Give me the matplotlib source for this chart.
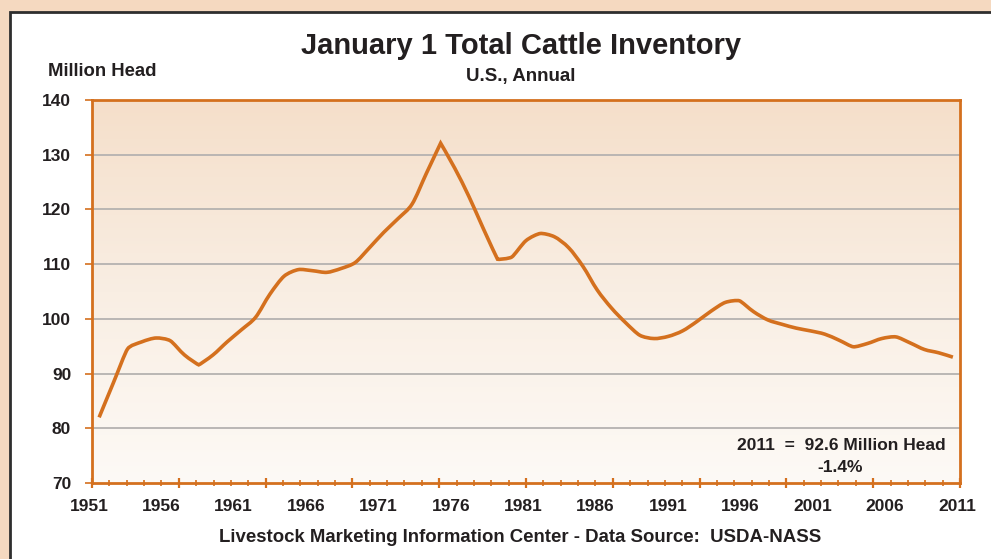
import numpy as np
import matplotlib
matplotlib.use("Agg")
import matplotlib.pyplot as plt
from matplotlib.colors import LinearSegmentedColormap
from matplotlib.patches import Rectangle
from matplotlib.path import Path
from matplotlib.patches import PathPatch

years = list(range(1951, 2012))
inventory = [82.0, 88.3, 94.5, 95.8, 96.5, 96.0, 93.4, 91.6, 93.4, 95.8,
             98.0, 100.3, 104.5, 107.8, 109.0, 108.8, 108.5, 109.2, 110.3, 113.0,
             115.8, 118.3, 121.0, 126.6, 132.1, 127.5, 122.3, 116.5, 110.9, 111.3,
             114.3, 115.6, 115.0, 113.0, 109.6, 105.3, 102.0, 99.3, 97.0, 96.4,
             96.8, 97.8, 99.5, 101.4, 103.0, 103.3, 101.3, 99.8, 99.0, 98.3,
             97.8, 97.2, 96.1, 94.9, 95.5, 96.4, 96.7, 95.6, 94.4, 93.8, 93.0]
ytick_values = [70, 80, 90, 100, 110, 120, 130, 140]
xtick_labels = ["1951", "1956", "1961", "1966", "1971", "1976", "1981",
                "1986", "1991", "1996", "2001", "2006", "2011"]

ORANGE = "#D4701E"
FONT2 = ["Liberation Sans", "DejaVu Sans"]
TXT = "#231F20"

fig = plt.figure(figsize=(9.91, 5.59), dpi=100)
fig.patch.set_facecolor("#F5D9C0")

# white framed panel
frame = Rectangle((10/991, -0.05), 1.1, 0.05 + 1 - 12/559, transform=fig.transFigure,
                  facecolor="white", edgecolor="#2E2E2E", linewidth=2.0, zorder=-5)
fig.patches.append(frame)

ax = fig.add_axes([92/991, 1 - 483/559, (960 - 92)/991, (483 - 100)/559])
ax.set_zorder(2)
ax.set_facecolor("none")

x0, x1 = 1950.5, 2011.5
ax.set_xlim(x0, x1)
ax.set_ylim(70, 140)

# gradient background
cmap = LinearSegmentedColormap.from_list("g", ["#FDFAF6", "#F9EEE3", "#F5DFCA"])
grad = np.linspace(0, 1, 256).reshape(-1, 1)
ax.imshow(grad, extent=[x0, x1, 70, 140], origin="lower", aspect="auto",
          cmap=cmap, zorder=0)

# grid lines
for v in ytick_values[1:-1]:
    ax.axhline(v, color="#B5B2B0", linewidth=1.3, zorder=1)

# smoothed line: Bezier through points, tension reduced at sharp turns
xs = np.array(years, dtype=float)
ys = np.array(inventory, dtype=float)
sx = (960 - 92) / (x1 - x0)     # pixel scale per data unit
sy = (483 - 100) / (140 - 70)
n = len(xs)
tang = np.zeros((n, 2))
for i in range(n):
    a = max(i - 1, 0)
    b = min(i + 1, n - 1)
    t = np.array([xs[b] - xs[a], ys[b] - ys[a]]) / 6.0
    if 0 < i < n - 1:
        v1 = np.array([(xs[i] - xs[i-1]) * sx, (ys[i] - ys[i-1]) * sy])
        v2 = np.array([(xs[i+1] - xs[i]) * sx, (ys[i+1] - ys[i]) * sy])
        c = np.dot(v1, v2) / (np.linalg.norm(v1) * np.linalg.norm(v2))
        t = t * max(c, 0.0) ** 2
    tang[i] = t
verts = [(xs[0], ys[0])]
codes = [Path.MOVETO]
for i in range(n - 1):
    c1 = (xs[i] + tang[i][0], ys[i] + tang[i][1])
    c2 = (xs[i+1] - tang[i+1][0], ys[i+1] - tang[i+1][1])
    verts += [c1, c2, (xs[i+1], ys[i+1])]
    codes += [Path.CURVE4] * 3
ax.add_patch(PathPatch(Path(verts, codes), facecolor="none", edgecolor=ORANGE,
                       linewidth=2.6, capstyle="butt", joinstyle="miter", zorder=3))

for s in ax.spines.values():
    s.set_color(ORANGE)
    s.set_linewidth(2.0)

# y ticks
ax.set_yticks(ytick_values)
ax.set_yticklabels([str(v) for v in ytick_values], fontfamily=FONT2,
                   fontweight="bold", fontsize=12.5, color=TXT)
ax.tick_params(axis="y", direction="out", length=5, width=1.2, color=ORANGE, pad=10)

# x ticks: 50 equal intervals, crossing ticks; labels placed separately
minor_pos = np.linspace(x0, x1, 51)
ax.set_xticks(minor_pos[::5])
ax.set_xticks(minor_pos, minor=True)
ax.set_xticklabels([])
ax.tick_params(axis="x", which="major", direction="inout", length=7, width=1.6, color=ORANGE)
ax.tick_params(axis="x", which="minor", direction="inout", length=5, width=1.2, color=ORANGE)

for lab in xtick_labels:
    yr = int(lab)
    px = 89 + 14.47 * (yr - 1951)
    xd = x0 + (px - 92) / sx
    ax.text(xd, -0.062, lab, transform=ax.get_xaxis_transform(), ha="center", va="center",
            fontfamily=FONT2, fontweight="bold", fontsize=12.5, color=TXT)

# titles
fig.text(521/991, 1 - 46/559, "January 1 Total Cattle Inventory", ha="center", va="center",
         fontfamily=FONT2, fontweight="bold", fontsize=21, color=TXT)
fig.text(521/991, 1 - 77/559, "U.S., Annual", ha="center", va="center",
         fontfamily=FONT2, fontweight="bold", fontsize=13.5, color=TXT)
fig.text(48/991, 1 - 72/559, "Million Head", ha="left", va="center",
         fontfamily=FONT2, fontweight="bold", fontsize=13.3, color=TXT)
fig.text(520/991, 1 - 537/559,
         "Livestock Marketing Information Center - Data Source:  USDA-NASS",
         ha="center", va="center", fontfamily=FONT2, fontweight="bold",
         fontsize=13.4, color=TXT)

# annotation
fig.text(946/991, 1 - 445/559, "2011  =  92.6 Million Head", ha="right", va="center",
         fontfamily=FONT2, fontweight="bold", fontsize=12.5, color=TXT)
fig.text(840/991, 1 - 468/559, "-1.4%", ha="center", va="center",
         fontfamily=FONT2, fontweight="bold", fontsize=12.5, color=TXT)

fig.savefig("out.png", dpi=100, facecolor=fig.get_facecolor())
